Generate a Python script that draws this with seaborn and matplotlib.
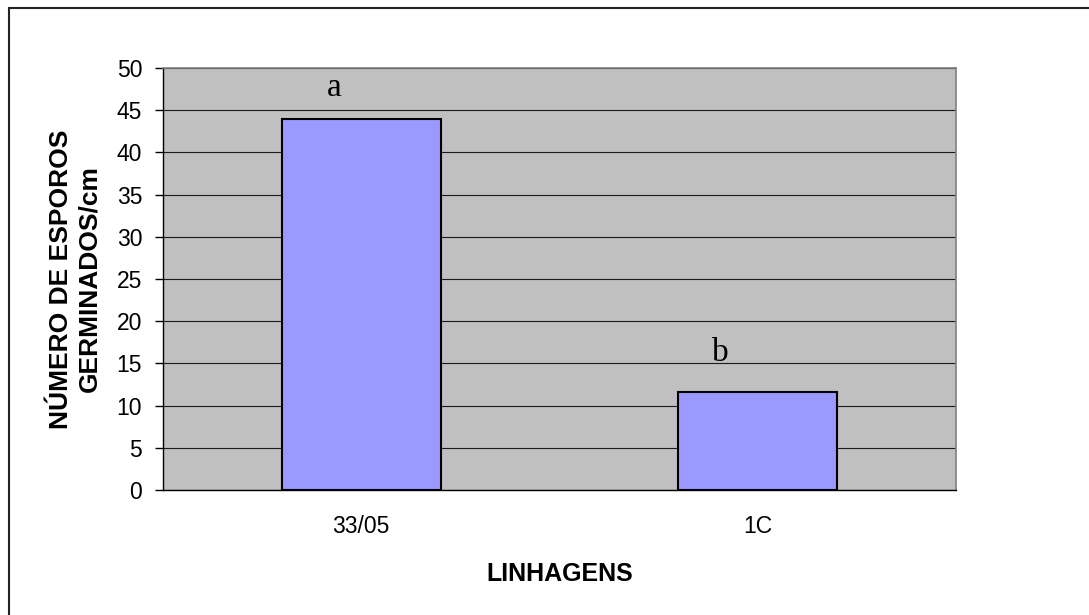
import matplotlib
matplotlib.use("Agg")
import matplotlib.pyplot as plt
import seaborn as sns
import pandas as pd
from matplotlib.patches import Rectangle

categories = ["33/05", "1C"]
values = [44.0, 11.6]
letters = ["a", "b"]
letter_x_offsets = [-0.069, -0.095]
letter_y = [46.7, 15.3]
yticks = list(range(0, 55, 5))

sns.set_theme(style="white")
plt.rcParams['font.family'] = ['Liberation Sans', 'DejaVu Sans']
plt.rcParams['text.color'] = 'black'
plt.rcParams['axes.labelcolor'] = 'black'
plt.rcParams['xtick.color'] = 'black'
plt.rcParams['ytick.color'] = 'black'

df = pd.DataFrame({"cat": categories, "val": values})

fig = plt.figure(figsize=(10.89, 6.15), dpi=100)
ax = fig.add_axes([163/1089, 125/615, (956-163)/1089, (490-68)/615])
ax.set_facecolor("#C0C0C0")
ax.set_axisbelow(True)

sns.barplot(data=df, x="cat", y="val", ax=ax, color="#9999FF", width=0.4,
            edgecolor="black", linewidth=1.5, saturation=1)

ax.set_ylim(0, 50)
ax.set_xlim(-0.5, 1.5)
ax.set_yticks(yticks)
ax.set_yticklabels([str(t) for t in yticks], fontsize=16.5)
ax.yaxis.grid(True, color="#1a1a1a", linewidth=0.8)
ax.xaxis.grid(False)

ax.set_xticks([0, 1])
ax.set_xticklabels(categories, fontsize=16.5)
ax.set_xticks([-0.5, 0.5, 1.5], minor=True)
ax.tick_params(axis="x", which="major", length=0, pad=18)
ax.tick_params(axis="x", which="minor", length=6, width=1, color="black", direction="out")
ax.tick_params(axis="y", length=6, width=1, color="black", direction="out", left=True, pad=9)

for s in ["left", "bottom"]:
    ax.spines[s].set_color("black")
    ax.spines[s].set_linewidth(1)
for s in ["top", "right"]:
    ax.spines[s].set_color("#808080")
    ax.spines[s].set_linewidth(1.2)
    ax.spines[s].set_visible(True)

for i, (lt, dx, ly) in enumerate(zip(letters, letter_x_offsets, letter_y)):
    ax.text(i + dx, ly, lt, ha="center", va="baseline", fontsize=24,
            family=["Liberation Serif", "DejaVu Serif"])

ax.set_xlabel("LINHAGENS", fontsize=18, fontweight="bold", labelpad=17)
ax.set_ylabel("NÚMERO DE ESPOROS\nGERMINADOS/cm", fontsize=19, fontweight="bold",
              linespacing=1.22)
ax.yaxis.set_label_coords(-0.078, 0.5)

# outer border (top and left visible)
fig.patches.append(Rectangle((9/1089, -0.05), 1.2, (615-8)/615 + 0.05,
                             transform=fig.transFigure, fill=False,
                             edgecolor="#222222", linewidth=1.5))

fig.savefig("out.png", dpi=100)
